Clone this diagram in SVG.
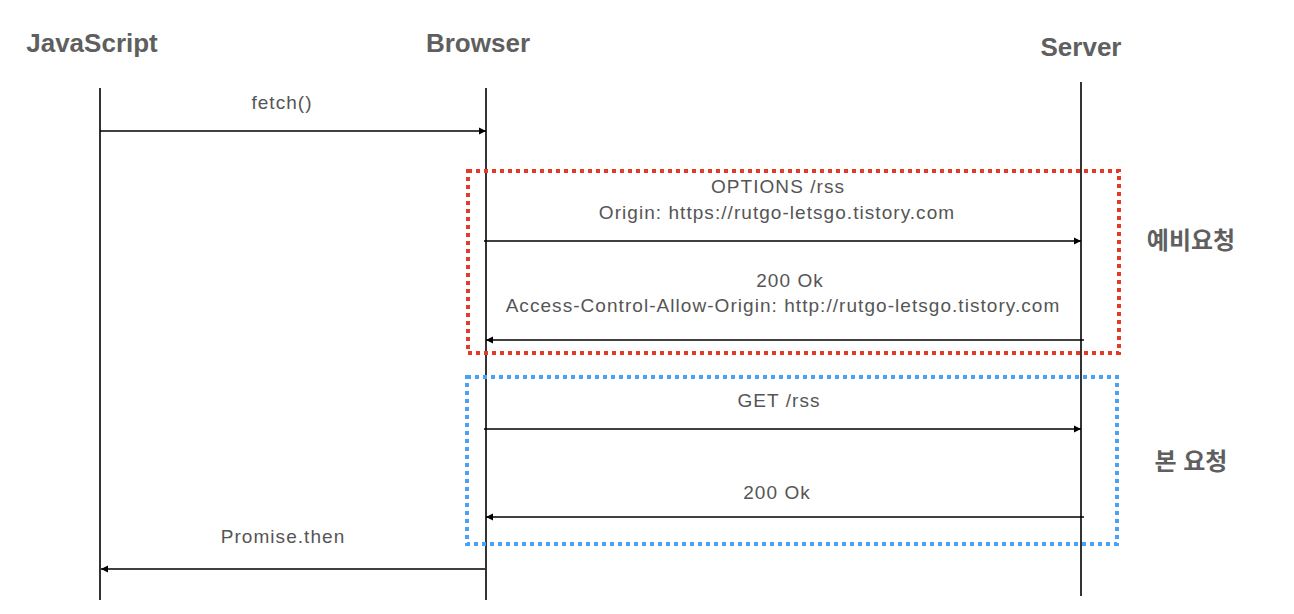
<svg xmlns="http://www.w3.org/2000/svg" width="1294" height="614" viewBox="0 0 1294 614">
<style>
.title{font-family:"Liberation Sans",Arial,sans-serif;font-weight:bold;font-size:26px;fill:#5f5f5f;text-anchor:middle}
.kr{font-family:"Liberation Sans","Noto Sans CJK KR",sans-serif;font-weight:bold;font-size:24px;fill:#5f5f5f;text-anchor:middle}
.lbl{font-family:"Liberation Sans",Arial,sans-serif;font-size:19px;letter-spacing:1.05px;fill:#555;text-anchor:middle}
.life{stroke:#000;stroke-width:1.6;fill:none}
.msg{stroke:#000;stroke-width:1.4;fill:none}
.box{fill:none;stroke-width:4;stroke-dasharray:4 4}
</style>
<defs>
<marker id="ah" markerWidth="8" markerHeight="8" refX="7" refY="4" orient="auto" markerUnits="userSpaceOnUse">
<path d="M0,0.5 L7,4 L0,7.5 Z" fill="#000"/>
</marker>
</defs>
<rect width="1294" height="614" fill="#fff"/>
<g id="javascript">
<text class="title" x="92" y="52">JavaScript</text>
<line class="life" x1="100" y1="88" x2="100" y2="600"/>
</g>
<g id="browser">
<text class="title" x="478" y="52">Browser</text>
<line class="life" x1="486" y1="88" x2="486" y2="600"/>
</g>
<g id="server">
<text class="title" x="1081" y="56">Server</text>
<line class="life" x1="1081" y1="82" x2="1081" y2="596"/>
</g>
<g id="preflight">
<rect class="box" x="468" y="171" width="651" height="182" stroke="#e53a2a"/>
<text class="kr" x="1191" y="249">예비요청</text>
</g>
<g id="main-request">
<rect class="box" x="467" y="377" width="650" height="167" stroke="#4aa3f2"/>
<text class="kr" x="1191" y="470">본 요청</text>
</g>
<g id="connectors">
<line class="msg" x1="100" y1="131" x2="486" y2="131" marker-end="url(#ah)"/>
<text class="lbl" x="282" y="109">fetch()</text>
<line class="msg" x1="484" y1="241" x2="1081" y2="241" marker-end="url(#ah)"/>
<text class="lbl" x="778" y="193">OPTIONS /rss</text>
<text class="lbl" x="777" y="219">Origin: https://rutgo-letsgo.tistory.com</text>
<line class="msg" x1="1084" y1="340" x2="486" y2="340" marker-end="url(#ah)"/>
<text class="lbl" x="790" y="287">200 Ok</text>
<text class="lbl" x="783" y="312">Access-Control-Allow-Origin: http://rutgo-letsgo.tistory.com</text>
<line class="msg" x1="484" y1="429" x2="1081" y2="429" marker-end="url(#ah)"/>
<text class="lbl" x="779" y="407">GET /rss</text>
<line class="msg" x1="1084" y1="517" x2="486" y2="517" marker-end="url(#ah)"/>
<text class="lbl" x="777" y="499">200 Ok</text>
<line class="msg" x1="485" y1="569" x2="101" y2="569" marker-end="url(#ah)"/>
<text class="lbl" x="283" y="543">Promise.then</text>
</g>
</svg>
